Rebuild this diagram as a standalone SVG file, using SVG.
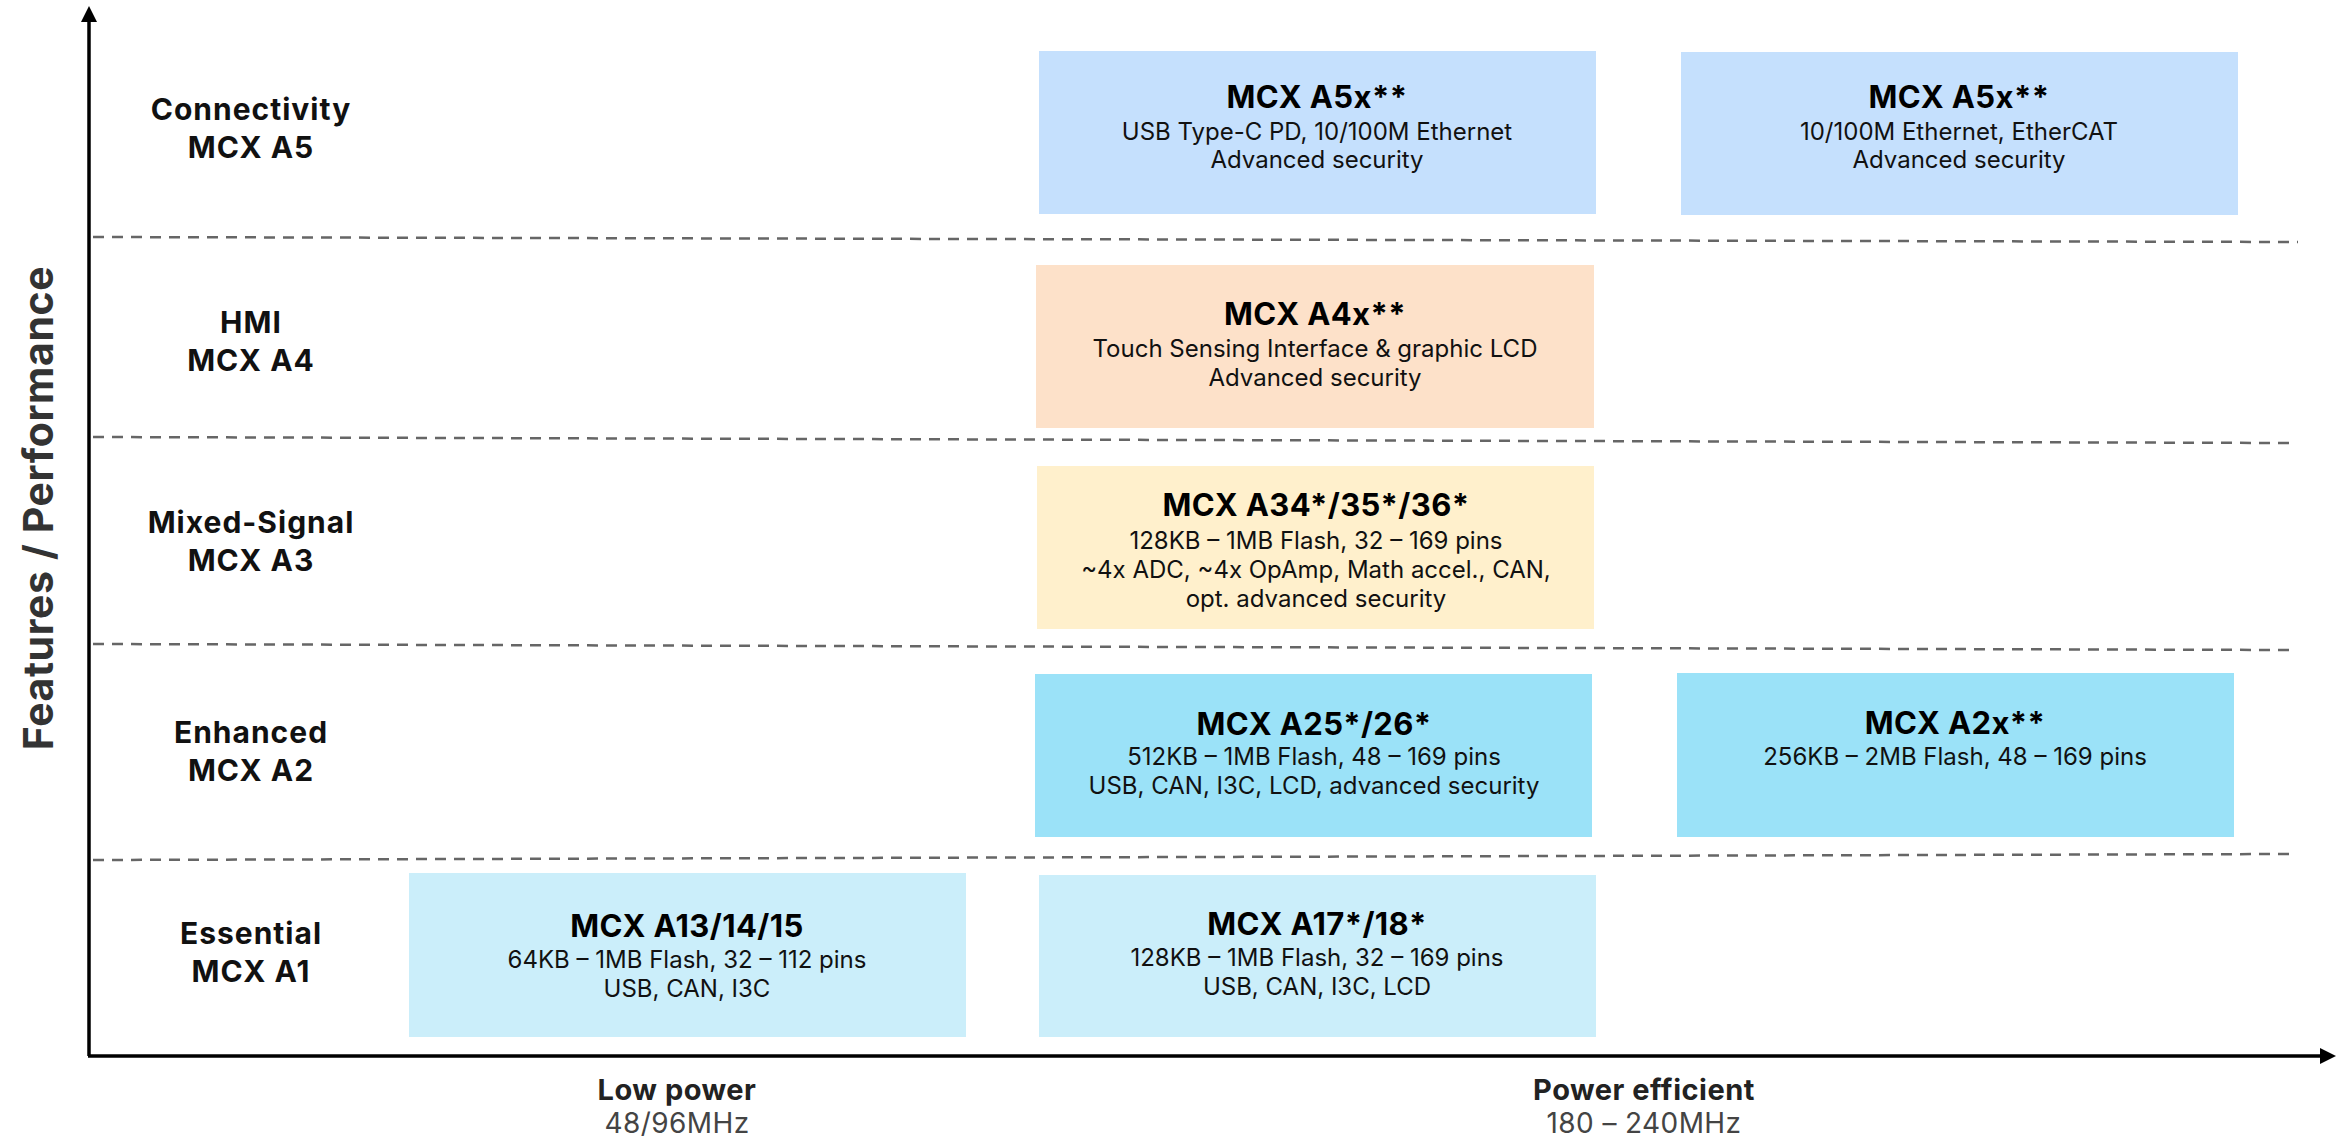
<svg xmlns="http://www.w3.org/2000/svg" width="2344" height="1139" viewBox="0 0 2344 1139">
<style>
text{font-family:Inter,"Open Sans","Liberation Sans",sans-serif;text-anchor:middle}
.row{font-size:30px;font-weight:700;fill:#111;letter-spacing:1px}
.ttl{font-size:31px;font-weight:700;fill:#000;letter-spacing:0.4px}
.bd{font-size:24px;font-weight:400;fill:#111}
.ax{font-size:29px;font-weight:700;fill:#222;letter-spacing:0.5px}
.axs{font-size:28px;font-weight:400;fill:#444;letter-spacing:0.4px}
.dash{stroke:#666;stroke-width:2.5;stroke-dasharray:11 8;fill:none}
.axis{stroke:#000;stroke-width:3.5;fill:none}
.c5{fill:#c5e0fd}.c4{fill:#fde1c9}.c3{fill:#fff0cc}.c2{fill:#9be2f8}.c1{fill:#cbeefa}
</style>
<defs>
<marker id="arr" viewBox="0 0 16 16" markerWidth="16" markerHeight="16" refX="10" refY="8" orient="auto" markerUnits="userSpaceOnUse">
<path d="M0,0 L16,8 L0,16 z" fill="#000"/>
</marker>
</defs>
<rect width="2344" height="1139" fill="#fff"/>
<g id="connectors">
<line class="dash" x1="93" y1="237" x2="2298" y2="242"/>
<line class="dash" x1="93" y1="437" x2="2295" y2="443"/>
<line class="dash" x1="93" y1="644" x2="2293" y2="650"/>
<line class="dash" x1="93" y1="860" x2="2295" y2="854"/>
<path class="axis" d="M89,1056 L89,12" marker-end="url(#arr)"/>
<path class="axis" d="M88,1056 L2330,1056" marker-end="url(#arr)"/>
</g>
<g id="ylabel"><text x="53" y="508" transform="rotate(-90 53 508)" style="font-size:41px;font-weight:700;fill:#333;letter-spacing:0.6px">Features / Performance</text></g>
<g id="row-a5"><text class="row" x="251" y="120">Connectivity</text><text class="row" x="251" y="158">MCX A5</text></g>
<g id="row-a4"><text class="row" x="251" y="333">HMI</text><text class="row" x="251" y="371">MCX A4</text></g>
<g id="row-a3"><text class="row" x="251" y="533">Mixed-Signal</text><text class="row" x="251" y="571">MCX A3</text></g>
<g id="row-a2"><text class="row" x="251" y="743">Enhanced</text><text class="row" x="251" y="781">MCX A2</text></g>
<g id="row-a1"><text class="row" x="251" y="944">Essential</text><text class="row" x="251" y="982">MCX A1</text></g>
<g id="a5x-1"><rect class="c5" x="1039" y="51" width="557" height="163"/>
<text class="ttl" x="1317" y="108">MCX A5x**</text>
<text class="bd" x="1317" y="140">USB Type-C PD, 10/100M Ethernet</text>
<text class="bd" x="1317" y="168">Advanced security</text></g>
<g id="a5x-2"><rect class="c5" x="1681" y="52" width="557" height="163"/>
<text class="ttl" x="1959" y="108">MCX A5x**</text>
<text class="bd" x="1959" y="140">10/100M Ethernet, EtherCAT</text>
<text class="bd" x="1959" y="168">Advanced security</text></g>
<g id="a4x"><rect class="c4" x="1036" y="265" width="558" height="163"/>
<text class="ttl" x="1315" y="325">MCX A4x**</text>
<text class="bd" x="1315" y="357">Touch Sensing Interface &amp; graphic LCD</text>
<text class="bd" x="1315" y="386">Advanced security</text></g>
<g id="a34"><rect class="c3" x="1037" y="466" width="557" height="163"/>
<text class="ttl" x="1316" y="516">MCX A34*/35*/36*</text>
<text class="bd" x="1316" y="549">128KB – 1MB Flash, 32 – 169 pins</text>
<text class="bd" x="1316" y="578">~4x ADC, ~4x OpAmp, Math accel., CAN,</text>
<text class="bd" x="1316" y="607">opt. advanced security</text></g>
<g id="a25"><rect class="c2" x="1035" y="674" width="557" height="163"/>
<text class="ttl" x="1314" y="735">MCX A25*/26*</text>
<text class="bd" x="1314" y="765">512KB – 1MB Flash, 48 – 169 pins</text>
<text class="bd" x="1314" y="794">USB, CAN, I3C, LCD, advanced security</text></g>
<g id="a2x"><rect class="c2" x="1677" y="673" width="557" height="164"/>
<text class="ttl" x="1955" y="734">MCX A2x**</text>
<text class="bd" x="1955" y="765">256KB – 2MB Flash, 48 – 169 pins</text></g>
<g id="a13"><rect class="c1" x="409" y="873" width="557" height="164"/>
<text class="ttl" x="687" y="937">MCX A13/14/15</text>
<text class="bd" x="687" y="968">64KB – 1MB Flash, 32 – 112 pins</text>
<text class="bd" x="687" y="997">USB, CAN, I3C</text></g>
<g id="a17"><rect class="c1" x="1039" y="875" width="557" height="162"/>
<text class="ttl" x="1317" y="935">MCX A17*/18*</text>
<text class="bd" x="1317" y="966">128KB – 1MB Flash, 32 – 169 pins</text>
<text class="bd" x="1317" y="995">USB, CAN, I3C, LCD</text></g>
<g id="xlabel-low"><text class="ax" x="677" y="1100">Low power</text><text class="axs" x="677" y="1133">48/96MHz</text></g>
<g id="xlabel-eff"><text class="ax" x="1644" y="1100">Power efficient</text><text class="axs" x="1644" y="1133">180 – 240MHz</text></g>
</svg>
